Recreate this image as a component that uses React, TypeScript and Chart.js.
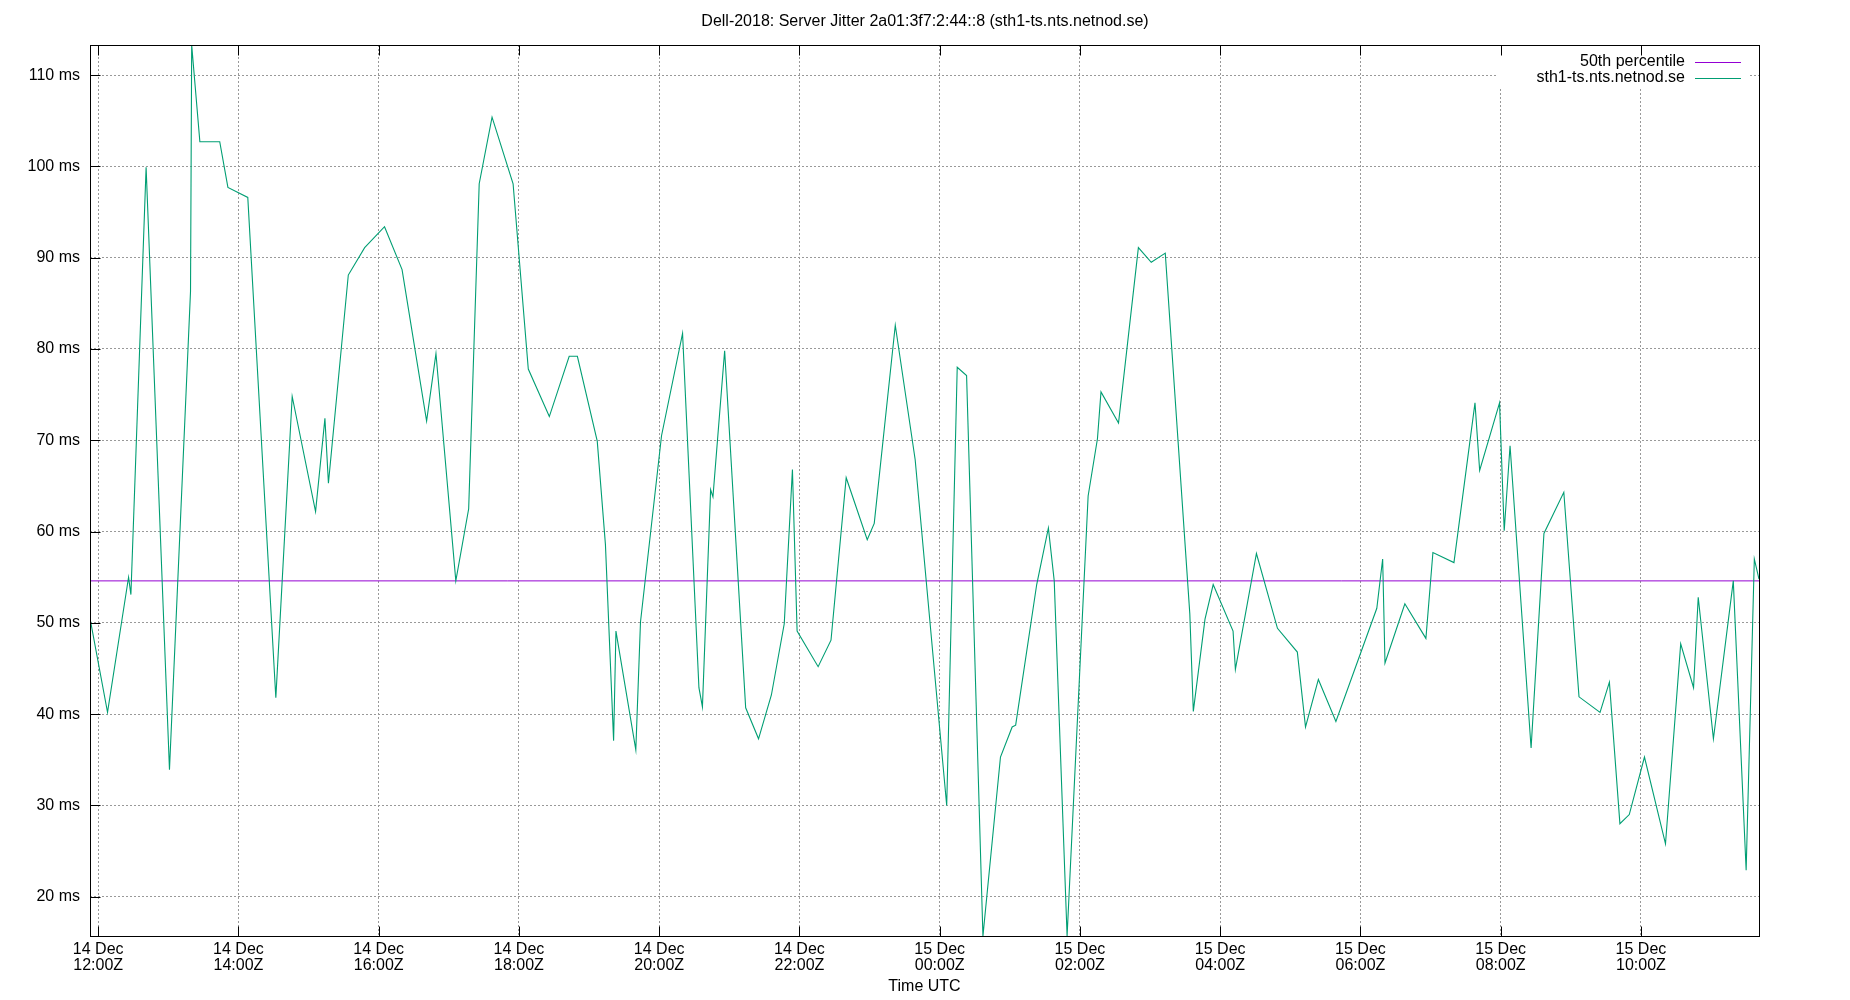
import React, { useEffect, useRef } from 'react';
import { Chart, registerables } from 'chart.js';

Chart.register(...registerables);

const titleText = 'Dell-2018: Server Jitter 2a01:3f7:2:44::8 (sth1-ts.nts.netnod.se)';
const xAxisTitle = 'Time UTC';
const seriesLabel = 'sth1-ts.nts.netnod.se';
const medianLabel = '50th percentile';

// sample times, minutes since 14 Dec 12:00Z
const sampleMinutes = [
  -7, 8, 26, 28, 41, 61, 79, 80, 87, 104, 111, 128, 152, 166, 186, 194, 197, 214, 228, 245,
  260, 281, 289, 306, 317, 326, 337, 355, 368, 386, 403, 410, 427, 434, 441, 443, 460, 464, 482, 500,
  514, 517, 524, 526, 536, 554, 565, 576, 587, 594, 598, 616, 627, 640, 658, 664, 682, 699, 726, 735,
  743, 757, 772, 782, 785, 803, 813, 818, 829, 847, 855, 858, 873, 890, 901, 913, 934, 937, 947, 954,
  971, 973, 991, 1009, 1026, 1033, 1044, 1059, 1094, 1099, 1101, 1118, 1136, 1142, 1160, 1178, 1182, 1199, 1203, 1208,
  1226, 1237, 1254, 1267, 1285, 1293, 1302, 1310, 1323, 1341, 1354, 1365, 1369, 1382, 1399, 1410, 1417, 1421,
];

// server jitter, ms
const jitterMs = [
  50.5, 40.2, 55.0, 53.1, 99.9, 33.9, 86.3, 113.3, 102.7, 102.7, 97.7, 96.6, 41.8, 74.8, 62.2, 72.4, 65.3, 88.1, 91.1, 93.4,
  88.7, 72.1, 79.5, 54.6, 62.5, 98.1, 105.4, 98.1, 77.8, 72.6, 79.2, 79.2, 69.9, 58.6, 37.1, 49.1, 36.1, 50.1, 70.5, 81.7,
  42.9, 40.8, 64.6, 63.8, 79.8, 40.7, 37.3, 42.1, 49.9, 66.8, 49.1, 45.2, 48.1, 65.9, 59.1, 60.9, 82.6, 67.9, 30.0, 78.0,
  77.1, 15.7, 35.3, 38.6, 38.8, 54.2, 60.4, 54.6, 15.7, 63.9, 70.2, 75.3, 71.9, 91.1, 89.5, 90.5, 51.0, 40.3, 50.4, 54.2,
  49.1, 44.9, 57.6, 49.4, 46.8, 38.6, 43.8, 39.2, 51.6, 57.0, 45.6, 52.1, 48.3, 57.7, 56.6, 74.1, 66.7, 74.1, 60.1, 69.4,
  36.3, 59.8, 64.3, 41.9, 40.2, 43.5, 28.0, 29.0, 35.3, 25.8, 47.7, 42.9, 52.8, 37.3, 54.6, 22.9, 57.0, 54.8,
];

const medianMs = 54.6;

const xTickMinutes = [0, 120, 240, 360, 480, 600, 720, 840, 960, 1080, 1200, 1320];
const xTickLabels = [
  ['14 Dec', '12:00Z'],
  ['14 Dec', '14:00Z'],
  ['14 Dec', '16:00Z'],
  ['14 Dec', '18:00Z'],
  ['14 Dec', '20:00Z'],
  ['14 Dec', '22:00Z'],
  ['15 Dec', '00:00Z'],
  ['15 Dec', '02:00Z'],
  ['15 Dec', '04:00Z'],
  ['15 Dec', '06:00Z'],
  ['15 Dec', '08:00Z'],
  ['15 Dec', '10:00Z'],
];
const yTickValues = [20, 30, 40, 50, 60, 70, 80, 90, 100, 110];

const FONT_FAMILY = '"Liberation Sans", Arial, sans-serif';
const FONT_SIZE = 16;
const GREEN = '#009e73';
const PURPLE = '#9400d3';

function align(p: number) {
  return Math.round(p) + 0.5;
}

const gnuplotDecor = {
  id: 'gnuplotDecor',
  beforeDatasetsDraw(chart: any) {
    const { ctx, chartArea: a } = chart;
    ctx.save();
    ctx.fillStyle = '#ffffff';
    ctx.fillRect(a.right - 263, a.top + 1, 252, 41);
    ctx.restore();
  },
  afterDraw(chart: any) {
    const { ctx, chartArea: a, scales } = chart;
    const xs = scales.x;
    const ys = scales.y;
    ctx.save();
    // border
    ctx.strokeStyle = '#000';
    ctx.lineWidth = 1;
    ctx.setLineDash([]);
    ctx.strokeRect(a.left + 0.5, a.top + 0.5, a.right - a.left, a.bottom - a.top);
    // inward ticks
    ctx.beginPath();
    const tl = 10;
    for (const v of xTickMinutes) {
      const px = align(xs.getPixelForValue(v));
      ctx.moveTo(px, a.bottom + 0.5);
      ctx.lineTo(px, a.bottom + 0.5 - tl);
      ctx.moveTo(px, a.top + 0.5);
      ctx.lineTo(px, a.top + 0.5 + tl);
    }
    for (const v of yTickValues) {
      const py = align(ys.getPixelForValue(v));
      ctx.moveTo(a.left + 0.5, py);
      ctx.lineTo(a.left + 0.5 + tl, py);
    }
    ctx.stroke();

    // title
    ctx.fillStyle = '#000';
    ctx.font = `${FONT_SIZE}px ${FONT_FAMILY}`;
    ctx.textAlign = 'center';
    ctx.textBaseline = 'middle';
    ctx.fillText(titleText, chart.width / 2, 21.5);
    // x axis title
    ctx.fillText(xAxisTitle, (a.left + a.right) / 2, 986.5);

    // legend
    ctx.textAlign = 'right';
    const textX = a.right - 74;
    const lineX1 = a.right - 64;
    const lineX2 = a.right - 18;
    const rows = [
      { label: medianLabel, color: PURPLE, y: a.top + 16.5 },
      { label: seriesLabel, color: GREEN, y: a.top + 32.5 },
    ];
    for (const r of rows) {
      ctx.fillStyle = '#000';
      ctx.fillText(r.label, textX, r.y);
      ctx.strokeStyle = r.color;
      ctx.lineWidth = 1;
      ctx.beginPath();
      ctx.moveTo(lineX1, Math.round(r.y) + 0.5);
      ctx.lineTo(lineX2, Math.round(r.y) + 0.5);
      ctx.stroke();
    }
    ctx.restore();
  },
};

export default function App() {
  const canvasRef = useRef<HTMLCanvasElement | null>(null);

  useEffect(() => {
    const canvas = canvasRef.current;
    if (!canvas) return;
    const points = sampleMinutes.map((m, i) => ({ x: m, y: jitterMs[i] }));
    const xMin = Math.min(...sampleMinutes);
    const xMax = Math.max(...sampleMinutes);
    const yMin = Math.min(...jitterMs);
    const yMax = Math.max(...jitterMs);

    const chart = new Chart(canvas, {
      type: 'line',
      data: {
        datasets: [
          {
            label: seriesLabel,
            data: points,
            borderColor: GREEN,
            borderWidth: 1.1,
            pointRadius: 0,
            tension: 0,
            fill: false,
          },
          {
            label: medianLabel,
            data: [
              { x: xMin, y: medianMs },
              { x: xMax, y: medianMs },
            ],
            borderColor: PURPLE,
            borderWidth: 1,
            pointRadius: 0,
            tension: 0,
            fill: false,
          },
        ],
      },
      options: {
        responsive: false,
        animation: false,
        devicePixelRatio: 1,
        events: [],
        layout: { padding: { top: 45, right: 91, left: 0, bottom: 0 } },
        plugins: {
          legend: { display: false },
          title: { display: false },
          tooltip: { enabled: false },
        },
        scales: {
          x: {
            type: 'linear',
            min: xMin,
            max: xMax,
            afterFit: (scale: any) => {
              scale.height = 64;
            },
            afterBuildTicks: (scale: any) => {
              scale.ticks = xTickMinutes.map((v) => ({ value: v }));
            },
            grid: {
              color: '#999999',
              lineWidth: 1,
              drawTicks: false,
            },
            border: { display: false, dash: [2, 2] },
            ticks: {
              autoSkip: false,
              maxRotation: 0,
              minRotation: 0,
              padding: 5.5,
              color: '#000',
              font: { family: FONT_FAMILY, size: FONT_SIZE, lineHeight: 1.0 },
              callback: (value: any) => {
                const i = xTickMinutes.indexOf(Number(value));
                return i >= 0 ? xTickLabels[i] : '';
              },
            },
          },
          y: {
            type: 'linear',
            min: yMin,
            max: yMax,
            afterFit: (scale: any) => {
              scale.width = 90;
            },
            afterBuildTicks: (scale: any) => {
              scale.ticks = yTickValues.map((v) => ({ value: v }));
            },
            grid: {
              color: '#999999',
              lineWidth: 1,
              drawTicks: false,
            },
            border: { display: false, dash: [2, 2] },
            ticks: {
              padding: 10,
              color: '#000',
              font: { family: FONT_FAMILY, size: FONT_SIZE },
              callback: (value: any) => `${value} ms`,
            },
          },
        },
      },
      plugins: [gnuplotDecor],
    });

    return () => {
      chart.destroy();
    };
  }, []);

  return (
    <div style={{ position: 'fixed', left: 0, top: 0, width: 1850, height: 1000, background: '#fff' }}>
      <canvas ref={canvasRef} width={1850} height={1000} style={{ width: 1850, height: 1000, display: 'block' }} />
    </div>
  );
}
